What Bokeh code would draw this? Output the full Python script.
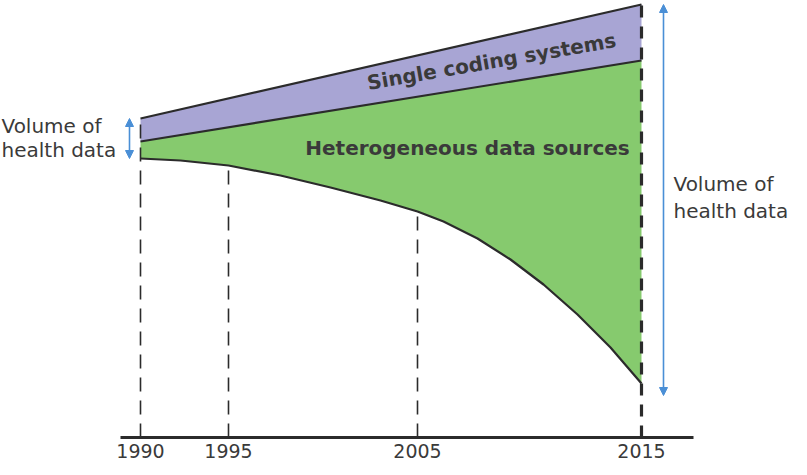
from bokeh.plotting import figure
from bokeh.models import Range1d, FixedTicker, Arrow, NormalHead
from bokeh.core.properties import value
from bokeh.embed import file_html
from bokeh.resources import INLINE

# ---- data (schematic units: x = timeline position, y = volume) ----
years = ["1990", "1995", "2005", "2015"]
year_x = [140, 228, 417, 641]

# straight band edges at 1990 and 2015
edge_x = [140, 641]
single_top = [319, 433]          # top of "Single coding systems"
hetero_top = [296, 377]          # boundary between the two bands

# lower edge of "Heterogeneous data sources"
bottom_x = [140, 180, 228, 280, 330, 380, 417, 443, 477, 510, 543, 577, 610, 641]
bottom_y = [279, 277, 272, 262, 250, 237, 226, 216, 199, 178, 153, 123, 90, 54]

DARK = "#2b2b2b"
TXT = "#3a3a3a"
BLUE = "#4a8fd6"
PURPLE = "#a8a5d4"
GREEN = "#86ca6e"
FONT = "DejaVu Sans"

p = figure(width=807, height=475, output_backend="svg", toolbar_location=None,
           x_range=Range1d(0, 807), y_range=Range1d(0, 437),
           min_border_left=0, min_border_right=0, min_border_top=0, min_border_bottom=38)
p.outline_line_color = None
p.grid.visible = False
p.yaxis.visible = False
p.background_fill_color = "white"
p.border_fill_color = "white"

# bands
p.patch(edge_x + edge_x[::-1], single_top + hetero_top[::-1],
        fill_color=PURPLE, line_color=None)
p.patch(edge_x + bottom_x[::-1], hetero_top + bottom_y[::-1],
        fill_color=GREEN, line_color=None)

# edges
p.line(edge_x, single_top, line_color=DARK, line_width=2.2)
p.line(edge_x, hetero_top, line_color=DARK, line_width=2.2)
p.line(bottom_x, bottom_y, line_color=DARK, line_width=2.2, line_join="round")

# vertical dashed year lines
tops = [single_top[0], bottom_y[bottom_x.index(228)], bottom_y[bottom_x.index(417)]]
p.segment(x0=year_x[:3], y0=[0, 0, 0], x1=year_x[:3], y1=tops,
          line_color=DARK, line_width=1.6, line_dash="14 9")
p.segment(x0=[year_x[3]], y0=[0], x1=[year_x[3]], y1=[437],
          line_color=DARK, line_width=3.2, line_dash="12 9")

# blue double arrows
for xa, y0, y1 in [(129, single_top[0], bottom_y[0]), (663, 433, 42)]:
    p.add_layout(Arrow(
        start=NormalHead(size=8, fill_color=BLUE, line_color=BLUE, line_width=1),
        end=NormalHead(size=8, fill_color=BLUE, line_color=BLUE, line_width=1),
        x_start=xa, y_start=y0, x_end=xa, y_end=y1,
        line_color=BLUE, line_width=1.6))

# labels
p.text(x=[1, 1], y=[312, 288], text=["Volume of", "health data"],
       text_font=value(FONT), text_font_size="20px", text_color=TXT,
       text_align="left", text_baseline="middle")
p.text(x=[673, 673], y=[254, 227], text=["Volume of", "health data"],
       text_font=value(FONT), text_font_size="20px", text_color=TXT,
       text_align="left", text_baseline="middle")
p.text(x=[467], y=[290], text=["Heterogeneous data sources"],
       text_font=value(FONT), text_font_size="20px", text_font_style="bold",
       text_color=TXT, text_align="center", text_baseline="middle")
p.text(x=[491], y=[376], text=["Single coding systems"], angle=0.172,
       text_font=value(FONT), text_font_size="20px", text_font_style="bold",
       text_color=TXT, text_align="center", text_baseline="middle")

# x axis
ax = p.xaxis[0]
ax.ticker = FixedTicker(ticks=year_x)
ax.major_label_overrides = {x: y for x, y in zip(year_x, years)}
ax.bounds = (120, 693)
ax.axis_line_width = 3
ax.axis_line_color = DARK
ax.major_tick_in = 0
ax.major_tick_out = 0
ax.minor_tick_in = 0
ax.minor_tick_out = 0
ax.major_label_standoff = 6
ax.major_label_text_font = FONT
ax.major_label_text_font_size = "19px"
ax.major_label_text_color = TXT

open("out.html", "w").write(file_html(p, INLINE))
